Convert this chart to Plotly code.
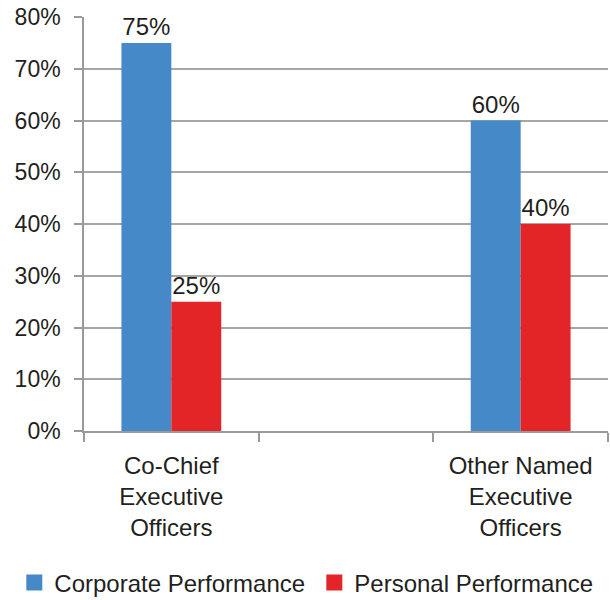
import plotly.graph_objects as go

categories = ["Co-Chief<br>Executive<br>Officers", " ", "Other Named<br>Executive<br>Officers"]
bar_categories = [categories[0], categories[2]]
corporate = [0.75, 0.60]
personal = [0.25, 0.40]
series_names = ["Corporate Performance", "Personal Performance"]
colors = ["#4589C8", "#E32528"]

FONT = "Liberation Sans, Arial, sans-serif"
TXT = "#231F20"

fig = go.Figure()
for name, vals, col in zip(series_names, [corporate, personal], colors):
    fig.add_trace(go.Bar(
        x=bar_categories, y=vals, name=name, legendgroup=name,
        marker=dict(color=col, line=dict(width=0)),
        texttemplate="%{y:.0%}", textposition="outside",
        textfont=dict(family=FONT, size=24, color=TXT),
        cliponaxis=False, showlegend=False,
    ))
# legend-only entries with larger square swatches
for name, col in zip(series_names, colors):
    fig.add_trace(go.Scatter(
        x=[None], y=[None], name=name, legendgroup=name, mode="markers",
        marker=dict(symbol="square", size=16, color=col, line=dict(width=0)),
        showlegend=True, hoverinfo="skip",
    ))

fig.update_layout(
    width=610, height=600,
    margin=dict(l=84, r=2, t=17, b=169, autoexpand=False),
    paper_bgcolor="white", plot_bgcolor="white",
    barmode="group", bargap=0.4286, bargroupgap=0,
    font=dict(family=FONT, color=TXT, size=24),
    showlegend=True,
    legend=dict(orientation="h", xref="paper", yref="paper",
                x=-0.133, xanchor="left", y=-0.367, yanchor="middle",
                font=dict(family=FONT, size=24, color=TXT),
                itemwidth=30, tracegroupgap=0, entrywidth=255,
                entrywidthmode="pixels"),
)
fig.update_xaxes(
    type="category", categoryorder="array", categoryarray=categories,
    range=[-0.5, 2.5], tickson="boundaries",
    ticks="outside", ticklen=9, tickcolor="#999999", tickwidth=1.5,
    showline=True, linecolor="#999999", linewidth=1.5,
    showgrid=False, tickfont=dict(family=FONT, size=24, color=TXT),
    ticklabelstandoff=12, automargin=False,
)
fig.update_yaxes(
    range=[0, 0.8], dtick=0.1, tickformat=".0%",
    ticks="outside", ticklen=8, tickcolor="#999999", tickwidth=1.5,
    showline=True, linecolor="#999999", linewidth=1.5,
    showgrid=True, gridcolor="#A6A6A6", gridwidth=1.5,
    zeroline=False, automargin=False,
    tickfont=dict(family=FONT, size=23, color=TXT),
    ticklabelstandoff=9,
)

fig.write_html("out.html", config={"displayModeBar": False},
               post_script="document.body.style.margin='0';")
